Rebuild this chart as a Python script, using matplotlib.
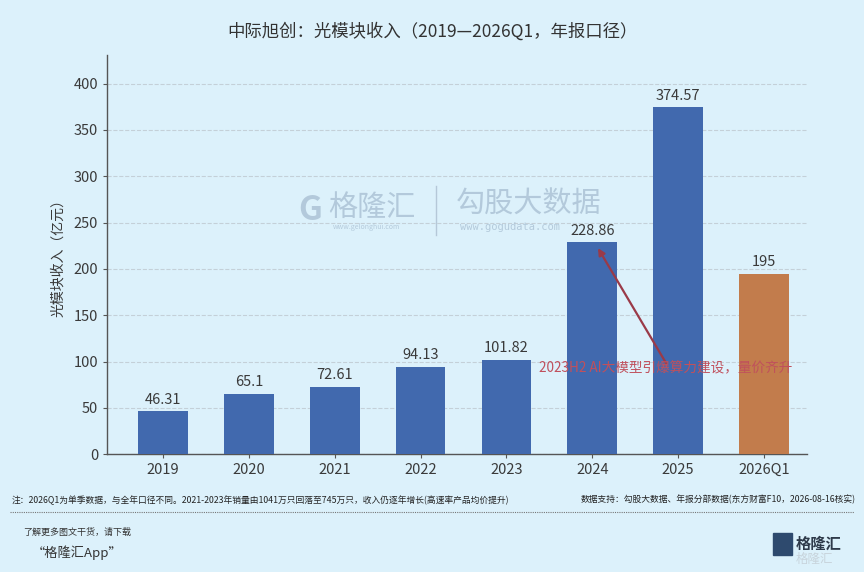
import numpy as np
import matplotlib.pyplot as plt
from matplotlib.patches import FancyBboxPatch

plt.rcParams["font.family"] = ["Noto Sans CJK SC", "DejaVu Sans"]

# data
years = ["2019", "2020", "2021", "2022", "2023", "2024", "2025", "2026Q1"]
revenue = [46.31, 65.1, 72.61, 94.13, 101.82, 228.86, 374.57, 195]
value_labels = ["46.31", "65.1", "72.61", "94.13", "101.82", "228.86", "374.57", "195"]
y_ticks = [0, 50, 100, 150, 200, 250, 300, 350, 400]

bg = "#dcf1fb"
blue = "#4169ae"
orange = "#c27c4c"
text_grey = "#3a3a3a"

fig = plt.figure(figsize=(8.64, 5.72), dpi=100, facecolor=bg)
ax = fig.add_axes([0.124, 0.206, 0.81, 0.698], facecolor=bg)

x = np.arange(len(years))
colors = [blue] * (len(years) - 1) + [orange]
bars = ax.bar(x, revenue, width=0.58, color=colors, zorder=3)

for xi, v, lab in zip(x, revenue, value_labels):
    ax.text(xi, v + 5, lab, ha="center", va="bottom", fontsize=10.5,
            color=text_grey, zorder=4)

ax.set_xlim(-0.65, 7.5)
ax.set_ylim(0, 431)
ax.set_xticks(x)
ax.set_xticklabels(years, fontsize=10.5, color=text_grey)
ax.set_yticks(y_ticks)
ax.set_yticklabels([str(t) for t in y_ticks], fontsize=10.5, color=text_grey)
ax.tick_params(axis="both", length=3, color="#555555")
ax.set_ylabel("光模块收入（亿元）", fontsize=10, color=text_grey, labelpad=6)

ax.grid(axis="y", linestyle="--", color="#c4d0d8", linewidth=0.8, zorder=0)
for s in ["top", "right"]:
    ax.spines[s].set_visible(False)
for s in ["left", "bottom"]:
    ax.spines[s].set_color("#555555")
    ax.spines[s].set_linewidth(1.0)

# annotation arrow
ax.annotate("", xy=(5.05, 225), xytext=(5.88, 95),
            arrowprops=dict(arrowstyle="-|>", color="#9a3a48", lw=1.6,
                            mutation_scale=10), zorder=5)
ax.text(5.86, 93, "2023H2 AI大模型引爆算力建设，量价齐升", ha="center",
        va="center", fontsize=9.8, color="#c0505c", zorder=5)

# watermark
fig.text(0.345, 0.632, "G", fontsize=24, color="#a9c0d3", ha="left",
         va="center", fontweight="bold", alpha=0.8)
fig.text(0.38, 0.637, "格隆汇", fontsize=21, color="#a9c0d3", ha="left",
         va="center", alpha=0.8)
fig.text(0.385, 0.603, "www.gelonghui.com", fontsize=5, color="#a9c0d3",
         ha="left", va="center", alpha=0.8)
fig.add_artist(plt.Line2D([0.505, 0.505], [0.59, 0.675], color="#b5c8d8",
                          lw=1, transform=fig.transFigure))
fig.text(0.528, 0.642, "勾股大数据", fontsize=21, color="#a9c0d3",
         ha="left", va="center", alpha=0.8)
fig.text(0.532, 0.603, "www.gogudata.com", fontsize=7.5, color="#a9c0d3",
         ha="left", va="center", alpha=0.8, family="DejaVu Sans Mono")

# title
fig.text(0.5, 0.945, "中际旭创：光模块收入（2019—2026Q1，年报口径）",
         ha="center", va="center", fontsize=12.5, color="#333333")

# footer
fig.text(0.013, 0.125, "注：2026Q1为单季数据，与全年口径不同。2021-2023年销量由1041万只回落至745万只，收入仍逐年增长(高速率产品均价提升)",
         ha="left", va="center", fontsize=6.3, color="#222222")
fig.text(0.99, 0.127, "数据支持：勾股大数据、年报分部数据(东方财富F10，2026-08-16核实)",
         ha="right", va="center", fontsize=6.3, color="#222222")
fig.add_artist(plt.Line2D([0.012, 0.988], [0.105, 0.105], color="#777777",
                          lw=0.8, linestyle=(0, (1, 1)),
                          transform=fig.transFigure))
fig.text(0.027, 0.07, "了解更多图文干货，请下载", ha="left", va="center",
         fontsize=6.5, color="#333333", style="italic")
fig.text(0.037, 0.034, "“格隆汇App”", ha="left", va="center",
         fontsize=9.5, color="#333333", style="italic")

# logo bottom right
fig.add_artist(FancyBboxPatch((0.895, 0.03), 0.022, 0.038,
                              boxstyle="square,pad=0", color="#2e4a6e",
                              transform=fig.transFigure))
fig.text(0.921, 0.05, "格隆汇", ha="left", va="center", fontsize=11,
         color="#2e3a4a", fontweight="bold")
fig.text(0.921, 0.022, "格隆汇", ha="left", va="center", fontsize=9,
         color="#c8d4dc")

fig.savefig("out.png", dpi=100, facecolor=bg)
